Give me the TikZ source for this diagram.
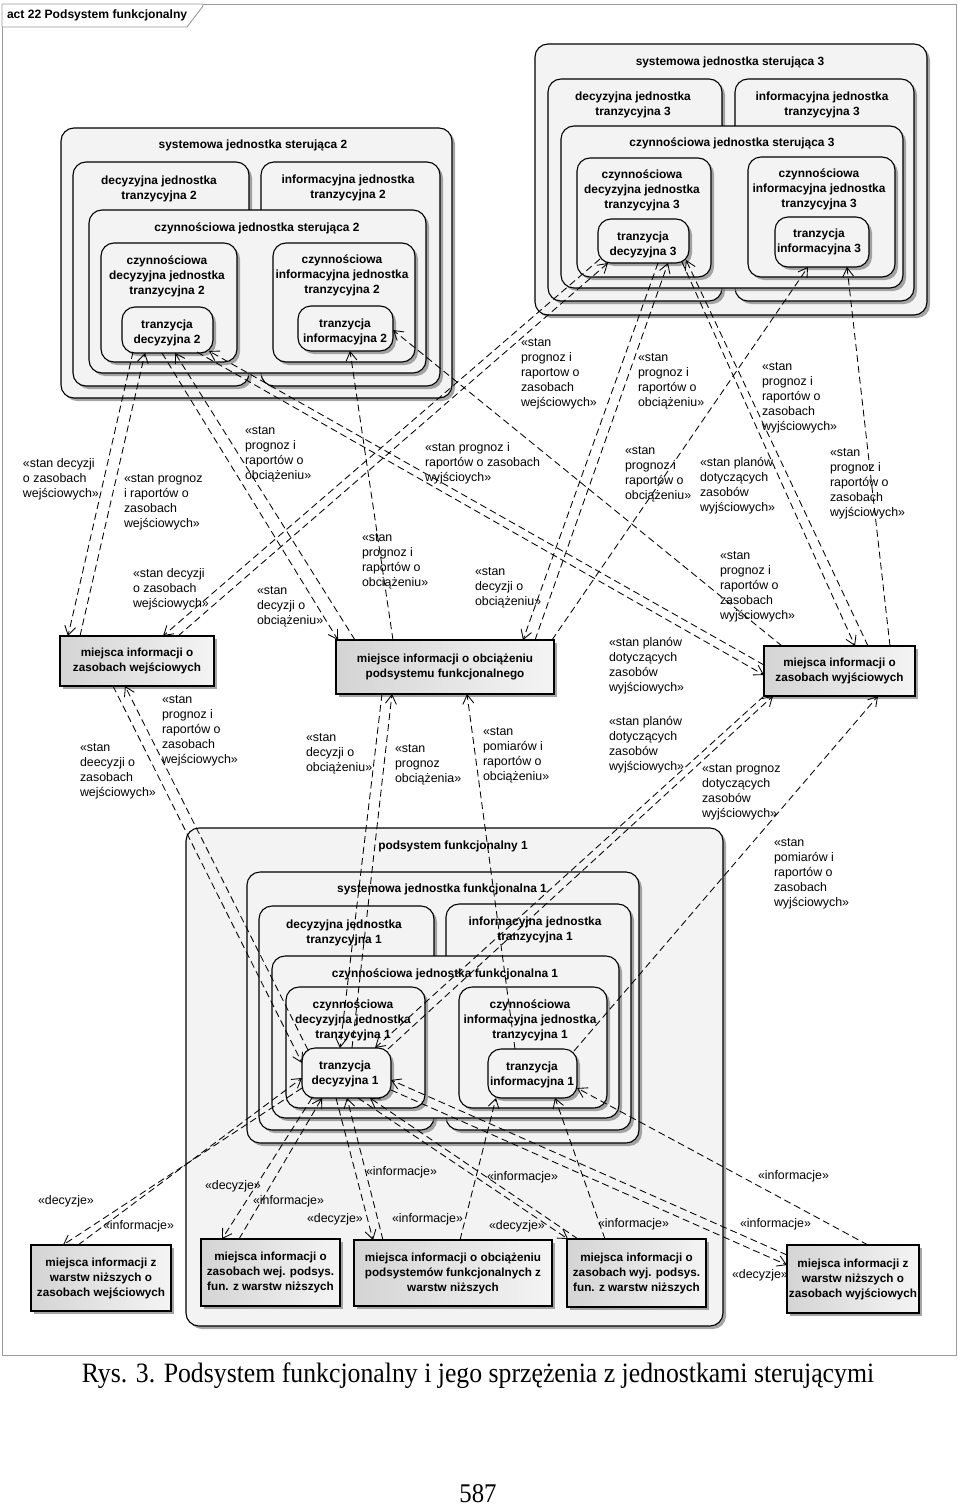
\documentclass[tikz,border=0pt]{standalone}
\usepackage{fontspec}
\usepackage{graphicx}
\setmainfont{Liberation Sans}
\newfontfamily\capfont{Liberation Serif}
\usetikzlibrary{arrows.meta,calc,shadows}
\definecolor{boxfill}{HTML}{F3F3F3}
\definecolor{framec}{HTML}{9A9A9A}
\definecolor{rectl}{HTML}{D4D4D4}
\definecolor{rectr}{HTML}{F4F4F4}
\newcommand\ctxt[1]{\begin{tabular}[t]{@{}c@{}}#1\end{tabular}}
\newcommand\ltxt[1]{\begin{tabular}[t]{@{}l@{}}#1\end{tabular}}
\newcommand\epnt[3]{($(#1.north west)+(#2,#3)$)}
\begin{document}
\begin{tikzpicture}[x=1pt,y=-1pt,
  every node/.style={inner sep=0pt,outer sep=0pt},
  rbox/.style={draw=black,line width=1.1pt,fill=boxfill,rounded corners=13pt,anchor=north west,
     drop shadow={shadow xshift=3pt,shadow yshift=-3pt,fill=black!50,opacity=0.7}},
  mbox/.style={draw=black,line width=1.1pt,left color=rectl,right color=rectr,anchor=north west,align=center,
     font=\bfseries\fontsize{11.7}{15}\selectfont,
     drop shadow={shadow xshift=3pt,shadow yshift=-3pt,fill=black!50,opacity=0.7}},
  ttl/.style={anchor=base,font=\bfseries\fontsize{11.9}{15}\selectfont},
  lbl/.style={anchor=base west,font=\fontsize{12.4}{15}\selectfont},
  dep/.style={draw,line width=0.85pt,dash pattern=on 7pt off 4pt,-{Straight Barb[length=9pt,width=11pt]}},
]
\useasboundingbox (0,0) rectangle (960,1507);
\fill[white] (0,0) rectangle (960,1507);
% frame
\draw[framec,line width=0.9pt] (2,4) rectangle (956,1355);
\draw[framec,line width=0.9pt,fill=white] (2,4) -- (203,4) -- (203,6) -- (187,27) -- (2,27) -- cycle;
\node[anchor=base west,font=\bfseries\fontsize{12.1}{15}\selectfont] (title) at (7,19) {act 22 Podsystem funkcjonalny};

% ===== control unit 2 =====
\node[rbox,minimum width=391pt,minimum height=270pt] (S2) at (61,128) {};
\node[ttl] (S2t) at (253,148) {systemowa jednostka sterująca 2};
\node[rbox,minimum width=176pt,minimum height=224pt] (D2) at (73,162) {};
\node[ttl] (D2t) at (159,184) {\ctxt{decyzyjna jednostka\\tranzycyjna 2}};
\node[rbox,minimum width=179pt,minimum height=224pt] (I2) at (261,162) {};
\node[ttl] (I2t) at (348,183) {\ctxt{informacyjna jednostka\\tranzycyjna 2}};
\node[rbox,minimum width=337pt,minimum height=163pt] (CS2) at (89,210) {};
\node[ttl] (CS2t) at (257,231) {czynnościowa jednostka sterująca 2};
\node[rbox,minimum width=136pt,minimum height=119pt] (CD2) at (101,243) {};
\node[ttl] (CD2t) at (167,264) {\ctxt{czynnościowa\\decyzyjna jednostka\\tranzycyjna 2}};
\node[rbox,minimum width=142pt,minimum height=119pt] (CI2) at (273,243) {};
\node[ttl] (CI2t) at (342,263) {\ctxt{czynnościowa\\informacyjna jednostka\\tranzycyjna 2}};
\node[rbox,minimum width=91pt,minimum height=46pt] (TD2) at (122,307) {};
\node[ttl] (TD2t) at (167,328) {\ctxt{tranzycja\\decyzyjna 2}};
\node[rbox,minimum width=95pt,minimum height=45pt] (TI2) at (298,306) {};
\node[ttl] (TI2t) at (345,327) {\ctxt{tranzycja\\informacyjna 2}};

% ===== control unit 3 =====
\node[rbox,minimum width=392pt,minimum height=271pt] (S3) at (535,44) {};
\node[ttl] (S3t) at (730,65) {systemowa jednostka sterująca 3};
\node[rbox,minimum width=174pt,minimum height=222pt] (D3) at (548,79) {};
\node[ttl] (D3t) at (633,100) {\ctxt{decyzyjna jednostka\\tranzycyjna 3}};
\node[rbox,minimum width=179pt,minimum height=222pt] (I3) at (735,79) {};
\node[ttl] (I3t) at (822,100) {\ctxt{informacyjna jednostka\\tranzycyjna 3}};
\node[rbox,minimum width=342pt,minimum height=162pt] (CS3) at (561,126) {};
\node[ttl] (CS3t) at (732,146) {czynnościowa jednostka sterująca 3};
\node[rbox,minimum width=134pt,minimum height=119pt] (CD3) at (577,158) {};
\node[ttl] (CD3t) at (642,178) {\ctxt{czynnościowa\\decyzyjna jednostka\\tranzycyjna 3}};
\node[rbox,minimum width=147pt,minimum height=120pt] (CI3) at (748,157) {};
\node[ttl] (CI3t) at (819,177) {\ctxt{czynnościowa\\informacyjna jednostka\\tranzycyjna 3}};
\node[rbox,minimum width=91pt,minimum height=44pt] (TD3) at (598,219) {};
\node[ttl] (TD3t) at (643,240) {\ctxt{tranzycja\\decyzyjna 3}};
\node[rbox,minimum width=94pt,minimum height=50pt] (TI3) at (775,217) {};
\node[ttl] (TI3t) at (819,237) {\ctxt{tranzycja\\informacyjna 3}};

% ===== functional subsystem 1 =====
\node[rbox,minimum width=537pt,minimum height=498pt] (P1) at (186,828) {};
\node[ttl] (P1t) at (453,849) {podsystem funkcjonalny 1};
\node[rbox,minimum width=392pt,minimum height=271pt] (SF1) at (247,872) {};
\node[ttl] (SF1t) at (442,892) {systemowa jednostka funkcjonalna 1};
\node[rbox,minimum width=175pt,minimum height=224pt] (D1) at (259,906) {};
\node[ttl] (D1t) at (344,928) {\ctxt{decyzyjna jednostka\\tranzycyjna 1}};
\node[rbox,minimum width=185pt,minimum height=226pt] (I1) at (446,904) {};
\node[ttl] (I1t) at (535,925) {\ctxt{informacyjna jednostka\\tranzycyjna 1}};
\node[rbox,minimum width=347pt,minimum height=162pt] (CF1) at (272,956) {};
\node[ttl] (CF1t) at (445,977) {czynnościowa jednostka funkcjonalna 1};
\node[rbox,minimum width=139pt,minimum height=121pt] (CD1) at (286,987) {};
\node[ttl] (CD1t) at (353,1008) {\ctxt{czynnościowa\\decyzyjna jednostka\\tranzycyjna 1}};
\node[rbox,minimum width=148pt,minimum height=121pt] (CI1) at (459,987) {};
\node[ttl] (CI1t) at (530,1008) {\ctxt{czynnościowa\\informacyjna jednostka\\tranzycyjna 1}};
\node[rbox,minimum width=89pt,minimum height=50pt] (TD1) at (302,1048) {};
\node[ttl] (TD1t) at (345,1069) {\ctxt{tranzycja\\decyzyjna 1}};
\node[rbox,minimum width=89pt,minimum height=49pt] (TI1) at (488,1049) {};
\node[ttl] (TI1t) at (532,1070) {\ctxt{tranzycja\\informacyjna 1}};

% ===== information places =====
\node[mbox,minimum width=154pt,minimum height=50pt] (M1) at (60,636) {miejsca informacji o\\zasobach wejściowych};
\node[mbox,minimum width=218pt,minimum height=54pt] (M2) at (336,640) {miejsce informacji o obciążeniu\\podsystemu funkcjonalnego};
\node[mbox,minimum width=151pt,minimum height=50pt] (M3) at (764,646) {miejsca informacji o\\zasobach wyjściowych};
\node[mbox,minimum width=140pt,minimum height=66pt] (B1) at (31,1245) {miejsca informacji z\\warstw niższych o\\zasobach wejściowych};
\node[mbox,minimum width=139pt,minimum height=67pt] (B2) at (201,1239) {miejsca informacji o\\zasobach wej. podsys.\\fun. z warstw niższych};
\node[mbox,minimum width=198pt,minimum height=66pt] (B3) at (354,1240) {miejsca informacji o obciążeniu\\podsystemów funkcjonalnych z\\warstw niższych};
\node[mbox,minimum width=139pt,minimum height=68pt] (B4) at (567,1239) {miejsca informacji o\\zasobach wyj. podsys.\\fun. z warstw niższych};
\node[mbox,minimum width=132pt,minimum height=68pt] (B5) at (787,1245) {miejsca informacji z\\warstw niższych o\\zasobach wyjściowych};

% ===== connectors: unit 2 =====
\draw[dep] \epnt{TD2}{11}{45} -- \epnt{M1}{8}{0};
\draw[dep] \epnt{M1}{20}{0} -- \epnt{TD2}{23}{46};
\draw[dep] \epnt{TD2}{40}{46} -- \epnt{M2}{2}{0};
\draw[dep] \epnt{M2}{19}{0} -- \epnt{TD2}{53}{46};
\draw[dep] \epnt{TD2}{75}{45} -- \epnt{M3}{0}{29};
\draw[dep] \epnt{M3}{0}{19} -- \epnt{TD2}{87}{44};
\draw[dep] \epnt{M2}{57}{0} -- \epnt{TI2}{52}{45};
\draw[dep] \epnt{M3}{18}{0} -- \epnt{TI2}{95}{24};
% ===== connectors: unit 3 =====
\draw[dep] \epnt{TD3}{2}{40} -- \epnt{M1}{103}{0};
\draw[dep] \epnt{M1}{118}{0} -- \epnt{TD3}{10}{44};
\draw[dep] \epnt{TD3}{60}{44} -- \epnt{M2}{187}{0};
\draw[dep] \epnt{M2}{199}{0} -- \epnt{TD3}{70}{44};
\draw[dep] \epnt{TD3}{84}{43} -- \epnt{M3}{91}{0};
\draw[dep] \epnt{M3}{104}{0} -- \epnt{TD3}{88}{41};
\draw[dep] \epnt{M2}{216}{0} -- \epnt{TI3}{33}{50};
\draw[dep] \epnt{M3}{126}{0} -- \epnt{TI3}{72}{50};
% ===== connectors: subsystem 1 to places =====
\draw[dep] \epnt{TD1}{6}{2} -- \epnt{M1}{65}{50};
\draw[dep] \epnt{M1}{53}{50} -- \epnt{TD1}{0}{15};
\draw[dep] \epnt{M2}{46}{54} -- \epnt{TD1}{38}{0};
\draw[dep] \epnt{TD1}{50}{0} -- \epnt{M2}{56}{54};
\draw[dep] \epnt{TI1}{27}{0} -- \epnt{M2}{131}{54};
\draw[dep] \epnt{M3}{0}{50} -- \epnt{TD1}{73}{0};
\draw[dep] \epnt{TD1}{86}{1} -- \epnt{M3}{9}{50};
\draw[dep] \epnt{TI1}{86}{2} -- \epnt{M3}{114}{50};
% ===== connectors: lower layers =====
\draw[dep] \epnt{TD1}{0}{40} -- \epnt{B1}{32}{0};
\draw[dep] \epnt{B1}{47}{0} -- \epnt{TD1}{0}{30};
\draw[dep] \epnt{TD1}{10}{50} -- \epnt{B2}{21}{0};
\draw[dep] \epnt{B2}{38}{0} -- \epnt{TD1}{20}{50};
\draw[dep] \epnt{TD1}{34}{50} -- \epnt{B3}{19}{0};
\draw[dep] \epnt{B3}{29}{0} -- \epnt{TD1}{45}{50};
\draw[dep] \epnt{TD1}{56}{50} -- \epnt{B4}{1}{0};
\draw[dep] \epnt{B4}{11}{0} -- \epnt{TD1}{68}{50};
\draw[dep] \epnt{TD1}{89}{42} -- \epnt{B5}{0}{20};
\draw[dep] \epnt{B5}{0}{10} -- \epnt{TD1}{89}{32};
\draw[dep] \epnt{B3}{106}{0} -- \epnt{TI1}{8}{49};
\draw[dep] \epnt{B4}{38}{0} -- \epnt{TI1}{67}{49};
\draw[dep] \epnt{B5}{81}{0} -- \epnt{TI1}{89}{39};

% ===== labels =====
\node[lbl] (l1) at (23,467) {\ltxt{«stan decyzji\\o zasobach\\wejściowych»}};
\node[lbl] (l2) at (124,482) {\ltxt{«stan prognoz\\i raportów o\\zasobach\\wejściowych»}};
\node[lbl] (l3) at (257,594) {\ltxt{«stan\\decyzji o\\obciążeniu»}};
\node[lbl] (l4) at (245,434) {\ltxt{«stan\\prognoz i\\raportów o\\obciążeniu»}};
\node[lbl] (l5) at (609,646) {\ltxt{«stan planów\\dotyczących\\zasobów\\wyjściowych»}};
\node[lbl] (l6) at (425,451) {\ltxt{«stan prognoz i\\raportów o zasobach\\wyjścioych»}};
\node[lbl] (l7) at (362,541) {\ltxt{«stan\\prognoz i\\raportów o\\obciążeniu»}};
\node[lbl] (l8) at (720,559) {\ltxt{«stan\\prognoz i\\raportów o\\zasobach\\wyjściowych»}};
\node[lbl] (l9) at (133,577) {\ltxt{«stan decyzji\\o zasobach\\wejściowych»}};
\node[lbl] (l10) at (521,346) {\ltxt{«stan\\prognoz i\\raportow o\\zasobach\\wejściowych»}};
\node[lbl] (l11) at (475,575) {\ltxt{«stan\\decyzji o\\obciążeniu»}};
\node[lbl] (l12) at (638,361) {\ltxt{«stan\\prognoz i\\raportów o\\obciążeniu»}};
\node[lbl] (l13) at (700,466) {\ltxt{«stan planów\\dotyczących\\zasobów\\wyjściowych»}};
\node[lbl] (l14) at (762,370) {\ltxt{«stan\\prognoz i\\raportów o\\zasobach\\wyjściowych»}};
\node[lbl] (l15) at (625,454) {\ltxt{«stan\\prognoz i\\raportów o\\obciążeniu»}};
\node[lbl] (l16) at (830,456) {\ltxt{«stan\\prognoz i\\raportów o\\zasobach\\wyjściowych»}};
\node[lbl] (l17) at (80,751) {\ltxt{«stan\\deecyzji o\\zasobach\\wejściowych»}};
\node[lbl] (l18) at (162,703) {\ltxt{«stan\\prognoz i\\raportów o\\zasobach\\wejściowych»}};
\node[lbl] (l19) at (306,741) {\ltxt{«stan\\decyzji o\\obciążeniu»}};
\node[lbl] (l20) at (395,752) {\ltxt{«stan\\prognoz\\obciążenia»}};
\node[lbl] (l21) at (483,735) {\ltxt{«stan\\pomiarów i\\raportów o\\obciążeniu»}};
\node[lbl] (l22) at (609,725) {\ltxt{«stan planów\\dotyczących\\zasobów\\wyjściowych»}};
\node[lbl] (l23) at (702,772) {\ltxt{«stan prognoz\\dotyczących\\zasobów\\wyjściowych»}};
\node[lbl] (l24) at (774,846) {\ltxt{«stan\\pomiarów i\\raportów o\\zasobach\\wyjściowych»}};
\node[lbl] (l25) at (38,1204) {«decyzje»};
\node[lbl] (l26) at (103,1229) {«informacje»};
\node[lbl] (l27) at (205,1189) {«decyzje»};
\node[lbl] (l28) at (253,1204) {«informacje»};
\node[lbl] (l29) at (307,1222) {«decyzje»};
\node[lbl] (l30) at (366,1175) {«informacje»};
\node[lbl] (l31) at (392,1222) {«informacje»};
\node[lbl] (l32) at (489,1229) {«decyzje»};
\node[lbl] (l33) at (487,1180) {«informacje»};
\node[lbl] (l34) at (598,1227) {«informacje»};
\node[lbl] (l35) at (732,1278) {«decyzje»};
\node[lbl] (l36) at (740,1227) {«informacje»};
\node[lbl] (l37) at (758,1179) {«informacje»};

% caption
\node[anchor=base] (cap) at (478,1382) {\scalebox{0.92}[1]{\capfont\fontsize{28}{32}\selectfont Rys. 3. Podsystem funkcjonalny i jego sprzężenia z jednostkami sterującymi}};
\node[anchor=base] (pg) at (478,1502) {\scalebox{0.92}[1]{\capfont\fontsize{27}{30}\selectfont 587}};
\end{tikzpicture}
\end{document}
